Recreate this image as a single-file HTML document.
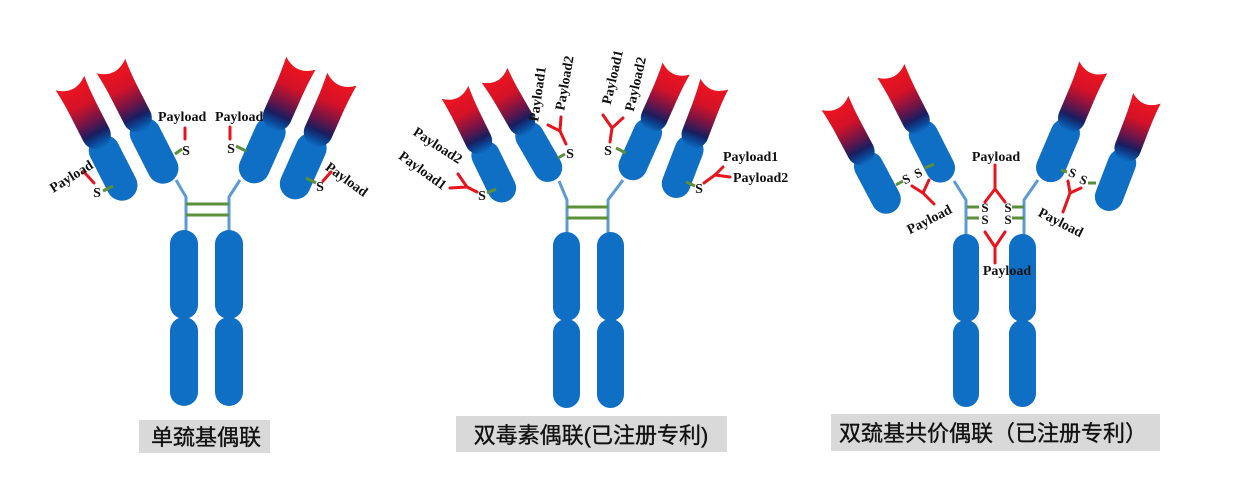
<!DOCTYPE html>
<html>
<head>
<meta charset="utf-8">
<style>
  html,body{margin:0;padding:0;background:#fff;}
  svg{display:block;}
  .pl{font-family:"Liberation Serif",serif;font-weight:bold;font-size:14px;fill:#111;}
  .s{font-family:"Liberation Serif",serif;font-weight:bold;font-size:14px;fill:#111;}
  .cap{font-family:"Liberation Sans","Noto Sans CJK SC",sans-serif;font-size:22px;fill:#111;stroke:#111;stroke-width:0.35;}
  .g{stroke:#5b8f3a;stroke-width:3;fill:none;}
  .r{stroke:#e8141c;stroke-width:3;fill:none;stroke-linecap:round;stroke-linejoin:round;}
  .st{stroke:#5b9bd5;stroke-width:3;fill:none;}
  .b{fill:#0f6fc5;}
</style>
</head>
<body>
<svg width="1242" height="489" viewBox="0 0 1242 489" xmlns="http://www.w3.org/2000/svg">
<defs>
  <linearGradient id="vg" x1="0" y1="0" x2="0" y2="1">
    <stop offset="0" stop-color="#f0141e"/>
    <stop offset="0.35" stop-color="#d41228"/>
    <stop offset="0.62" stop-color="#6a1548"/>
    <stop offset="0.78" stop-color="#1a1d5e"/>
    <stop offset="0.9" stop-color="#0a4a99"/>
    <stop offset="1" stop-color="#0f6fc5"/>
  </linearGradient>
  <g id="arm">
    <rect x="-15.5" y="-70" width="31" height="70" rx="15.5" fill="#0f6fc5"/>
    <path d="M-16,-130 Q0,-117 16,-130 C15,-120 14.5,-110 14.5,-100 L14.5,-72 A14.5,14.5 0 0 1 -14.5,-72 L-14.5,-100 C-14.5,-110 -15,-120 -16,-130 Z" fill="url(#vg)"/>
  </g>
</defs>

<!-- ================= Antibody 1 ================= -->
<polyline class="st" points="176,180 186,197 186,234"/>
<polyline class="st" points="240,180 229,197 229,234"/>
<line class="g" x1="186" y1="204" x2="229" y2="204" stroke-width="3.5"/>
<line class="g" x1="186" y1="215" x2="229" y2="215" stroke-width="3.5"/>
<rect class="b" x="170" y="230" width="28" height="89" rx="14"/>
<rect class="b" x="170" y="317" width="28" height="89" rx="14"/>
<rect class="b" x="215" y="230" width="28" height="89" rx="14"/>
<rect class="b" x="215" y="317" width="28" height="89" rx="14"/>
<use href="#arm" transform="translate(129,199) rotate(-27)"/>
<use href="#arm" transform="translate(170,182) rotate(-27)"/>
<use href="#arm" transform="translate(248,182) rotate(24)"/>
<use href="#arm" transform="translate(289,198) rotate(24)"/>
<!-- payloads -->
<line class="g" x1="113" y1="186" x2="103" y2="191"/>
<text class="s" x="97" y="197" text-anchor="middle">S</text>
<line class="r" x1="84" y1="172" x2="94" y2="183" stroke-linecap="butt"/>
<text class="pl" transform="translate(71,176) rotate(-32)" text-anchor="middle" dy="5">Payload</text>

<line class="g" x1="175" y1="154" x2="182" y2="149"/>
<text class="s" x="186" y="155" text-anchor="middle">S</text>
<line class="r" x1="185" y1="128" x2="185" y2="139" stroke-linecap="butt"/>
<text class="pl" x="158" y="121">Payload</text>

<line class="g" x1="236" y1="146" x2="246" y2="151"/>
<text class="s" x="231" y="153" text-anchor="middle">S</text>
<line class="r" x1="230" y1="127" x2="230" y2="139" stroke-linecap="butt"/>
<text class="pl" x="215" y="121">Payload</text>

<line class="g" x1="306" y1="178" x2="316" y2="183"/>
<text class="s" x="320" y="191" text-anchor="middle">S</text>
<line class="r" x1="323" y1="181" x2="331" y2="172" stroke-linecap="butt"/>
<text class="pl" transform="translate(347,179) rotate(36)" text-anchor="middle" dy="5">Payload</text>

<!-- ================= Antibody 2 ================= -->
<polyline class="st" points="559,181 567,200 567,236"/>
<polyline class="st" points="623,180 608,200 608,236"/>
<line class="g" x1="567" y1="207" x2="608" y2="207" stroke-width="3.5"/>
<line class="g" x1="567" y1="218" x2="608" y2="218" stroke-width="3.5"/>
<rect class="b" x="553" y="232" width="27" height="89" rx="13.5"/>
<rect class="b" x="553" y="319" width="27" height="89" rx="13.5"/>
<rect class="b" x="597" y="232" width="27" height="89" rx="13.5"/>
<rect class="b" x="597" y="319" width="27" height="89" rx="13.5"/>
<use href="#arm" transform="translate(508,201) rotate(-26) scale(0.93)"/>
<use href="#arm" transform="translate(555,180) rotate(-30) scale(0.93)"/>
<use href="#arm" transform="translate(627,179) rotate(24) scale(0.93)"/>
<use href="#arm" transform="translate(671,197) rotate(21) scale(0.93)"/>
<!-- payloads -->
<line class="g" x1="496" y1="189" x2="487" y2="193"/>
<text class="s" x="482" y="200" text-anchor="middle">S</text>
<polyline class="r" points="477,192 467,187"/>
<polyline class="r" points="458,174 467,187 450,188"/>
<text class="pl" transform="translate(438,145) rotate(33)" text-anchor="middle" dy="5">Payload2</text>
<text class="pl" transform="translate(423,170) rotate(36)" text-anchor="middle" dy="5">Payload1</text>

<line class="g" x1="558" y1="158" x2="565" y2="154"/>
<text class="s" x="570" y="158" text-anchor="middle">S</text>
<polyline class="r" points="566,144 560,131"/>
<polyline class="r" points="548,125 560,131 561,117"/>
<text class="pl" transform="translate(537,94) rotate(-82)" text-anchor="middle" dy="5">Payload1</text>
<text class="pl" transform="translate(564,83) rotate(-80)" text-anchor="middle" dy="5">Payload2</text>

<line class="g" x1="616" y1="148" x2="626" y2="153"/>
<text class="s" x="608" y="155" text-anchor="middle">S</text>
<polyline class="r" points="610,142 612,128"/>
<polyline class="r" points="603,115 612,128 623,118"/>
<text class="pl" transform="translate(612,77) rotate(-77)" text-anchor="middle" dy="5">Payload1</text>
<text class="pl" transform="translate(635,84) rotate(-77)" text-anchor="middle" dy="5">Payload2</text>

<line class="g" x1="686" y1="182" x2="695" y2="186"/>
<text class="s" x="699" y="193" text-anchor="middle">S</text>
<polyline class="r" points="704,183 715,175"/>
<polyline class="r" points="723,167 715,175 730,177"/>
<text class="pl" x="723" y="161">Payload1</text>
<text class="pl" x="733" y="182">Payload2</text>

<!-- ================= Antibody 3 ================= -->
<polyline class="st" points="954,181 966,200 966,237"/>
<polyline class="st" points="1038,180 1024,200 1024,237"/>
<rect class="b" x="953" y="234" width="26" height="88" rx="13"/>
<rect class="b" x="953" y="320" width="26" height="87" rx="13"/>
<rect class="b" x="1009" y="234" width="27" height="88" rx="13.5"/>
<rect class="b" x="1009" y="320" width="27" height="87" rx="13.5"/>
<use href="#arm" transform="translate(893,212) rotate(-28) scale(0.95)"/>
<use href="#arm" transform="translate(947,181) rotate(-27) scale(0.95)"/>
<use href="#arm" transform="translate(1045,181) rotate(23) scale(0.95)"/>
<use href="#arm" transform="translate(1104,210) rotate(21) scale(0.92)"/>
<!-- hinge -->
<line class="g" x1="967" y1="207" x2="979" y2="207" stroke-width="3.5"/>
<line class="g" x1="967" y1="218" x2="979" y2="218" stroke-width="3.5"/>
<line class="g" x1="1012" y1="207" x2="1024" y2="207" stroke-width="3.5"/>
<line class="g" x1="1012" y1="218" x2="1024" y2="218" stroke-width="3.5"/>
<text class="s" x="985" y="212" text-anchor="middle" style="font-size:13px">S</text>
<text class="s" x="985" y="224" text-anchor="middle" style="font-size:13px">S</text>
<text class="s" x="1008" y="212" text-anchor="middle" style="font-size:13px">S</text>
<text class="s" x="1008" y="224" text-anchor="middle" style="font-size:13px">S</text>
<polyline class="r" points="995,165 995,189"/>
<polyline class="r" points="985,202 995,189 1005,202"/>
<text class="pl" x="996" y="161" text-anchor="middle">Payload</text>
<polyline class="r" points="985,232 995,247 1005,232"/>
<polyline class="r" points="995,247 995,263"/>
<text class="pl" x="1007" y="275" text-anchor="middle">Payload</text>
<!-- left side payload -->
<line class="g" x1="896" y1="185" x2="903" y2="181"/>
<text class="s" transform="translate(908,183) rotate(-25)" text-anchor="middle" style="font-size:13px">S</text>
<text class="s" transform="translate(920,177) rotate(-25)" text-anchor="middle" style="font-size:13px">S</text>
<line class="g" x1="925" y1="168" x2="934" y2="164"/>
<polyline class="r" points="912,186 923,193 929,180"/>
<polyline class="r" points="923,193 934,204"/>
<text class="pl" transform="translate(929,219) rotate(-27)" text-anchor="middle" dy="5">Payload</text>
<!-- right side payload -->
<line class="g" x1="1061" y1="170" x2="1067" y2="172"/>
<text class="s" transform="translate(1071,177) rotate(20)" text-anchor="middle" style="font-size:13px">S</text>
<text class="s" transform="translate(1082,184) rotate(20)" text-anchor="middle" style="font-size:13px">S</text>
<line class="g" x1="1088" y1="183" x2="1096" y2="183"/>
<polyline class="r" points="1068,181 1070,193 1081,188"/>
<polyline class="r" points="1070,193 1063,212"/>
<text class="pl" transform="translate(1061,222) rotate(27)" text-anchor="middle" dy="5">Payload</text>

<!-- ================= captions ================= -->
<rect x="139" y="420" width="131" height="33" fill="#d9d9d9"/>
<text class="cap" x="206" y="445" text-anchor="middle">单巯基偶联</text>
<rect x="456" y="416" width="271" height="36" fill="#d9d9d9"/>
<text class="cap" x="591" y="443" text-anchor="middle">双毒素偶联(已注册专利)</text>
<rect x="831" y="414" width="329" height="37" fill="#d9d9d9"/>
<text class="cap" x="839" y="441">双巯基共价偶联（已注册专利）</text>
</svg>
</body>
</html>
